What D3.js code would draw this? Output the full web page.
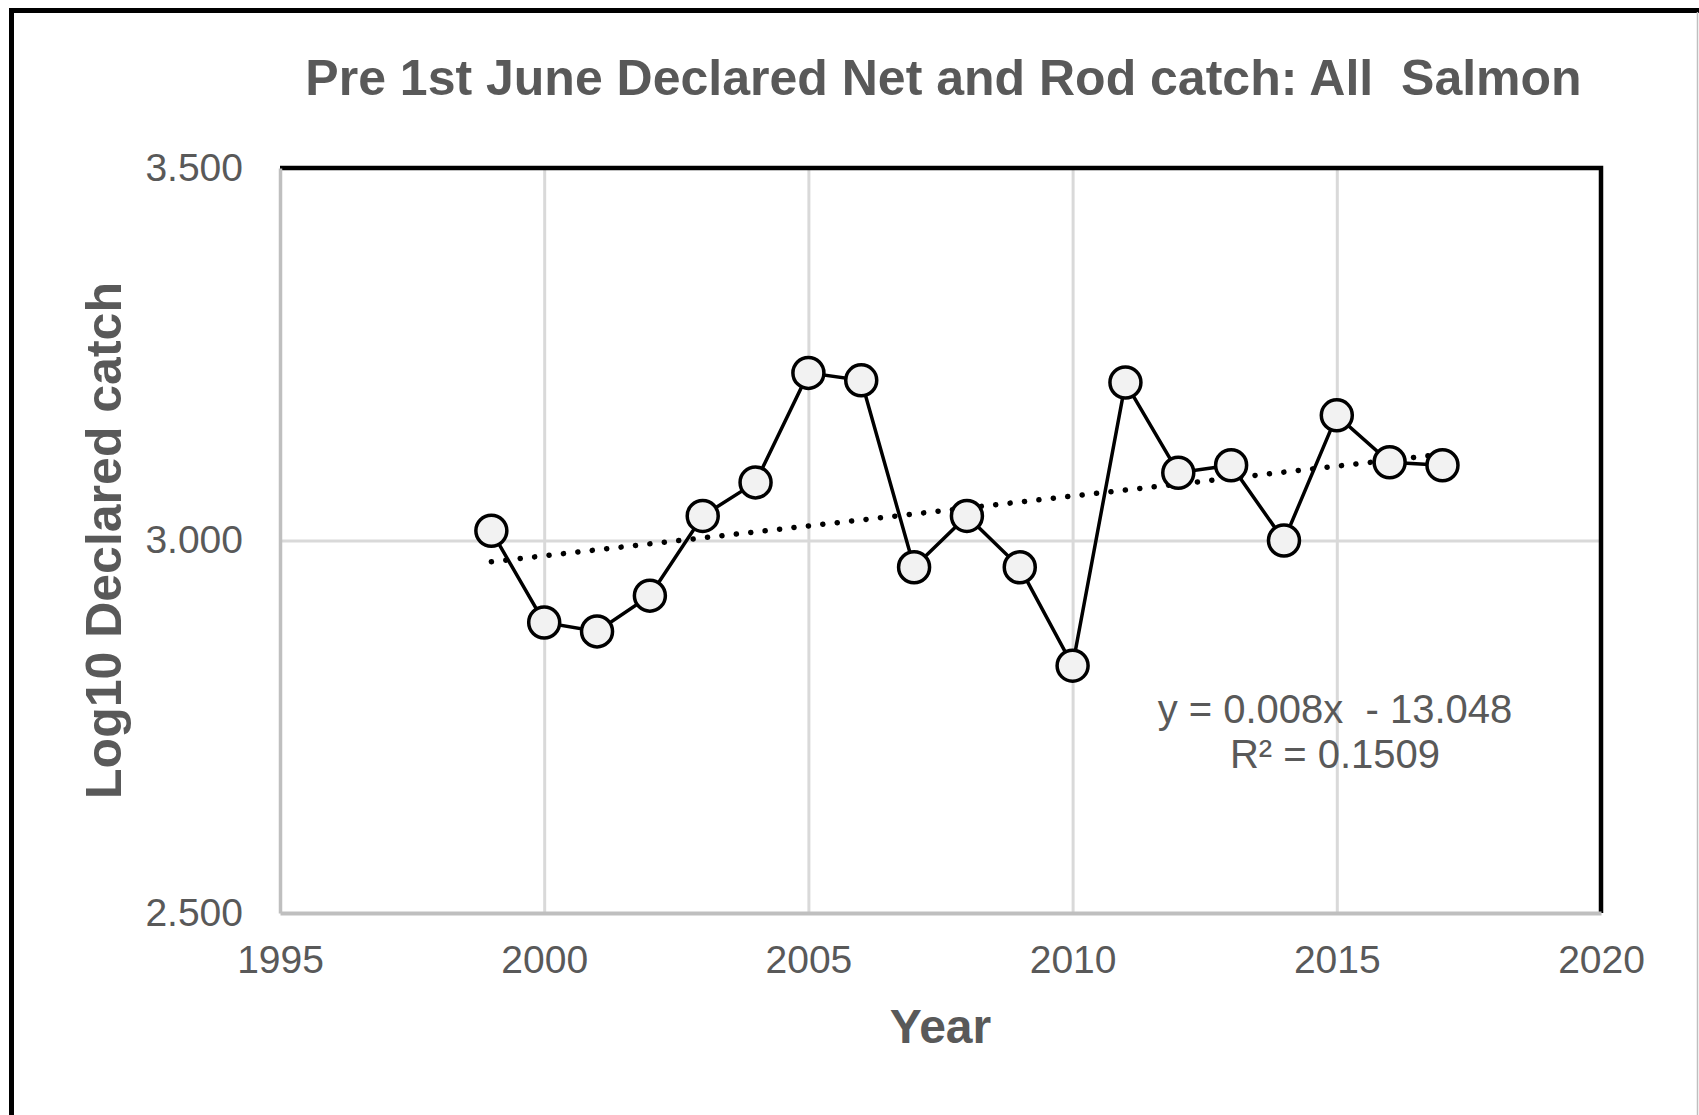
<!DOCTYPE html>
<html>
<head>
<meta charset="utf-8">
<script src="https://cdn.jsdelivr.net/npm/d3@7"></script>
<style>
    html, body { margin: 0; padding: 0; background: #fff; }
    svg { display: block; font-family: "Liberation Sans", Arial, sans-serif; }
</style>
</head>
<body>
<div class="chart"></div>
<script>
// values
var years = [1999, 2000, 2001, 2002, 2003, 2004, 2005, 2006, 2007, 2008,
    2009, 2010, 2011, 2012, 2013, 2014, 2015, 2016, 2017];
var logCatch = [3.013, 2.890, 2.878, 2.926, 3.033, 3.078, 3.225, 3.215, 2.964, 3.033,
    2.964, 2.832, 3.212, 3.091, 3.101, 3.000, 3.168, 3.105, 3.101];

var xTicks = [1995, 2000, 2005, 2010, 2015, 2020];
var yTicks = [2.5, 3.0, 3.5];
var xGrid = [2000, 2005, 2010, 2015];
var yGrid = [3.0];

var titleText = "Pre 1st June Declared Net and Rod catch: All  Salmon";
var xTitle = "Year";
var yTitle = "Log10 Declared catch";
var eqLines = ["y = 0.008x  - 13.048", "R\u00b2 = 0.1509"];

// ==================================

var w = 1699;
var h = 1115;
var plot = { left: 280, right: 1601, top: 168, bottom: 913 };
var textGrey = "#595959";

var svg = d3.select(".chart")
    .append("svg")
    .attr("width", w)
    .attr("height", h);

// outer frame (left + top thick, right thin)
svg.append("path")
    .attr("d", "M11.5," + h + "V10.5H" + w)
    .attr("fill", "none")
    .attr("stroke", "#000")
    .attr("stroke-width", 5);
svg.append("line")
    .attr("x1", 1697.5).attr("x2", 1697.5)
    .attr("y1", 12).attr("y2", h)
    .attr("stroke", "#bfbfbf")
    .attr("stroke-width", 1.5);

var x = d3.scaleLinear().domain([1995, 2020]).range([plot.left, plot.right]);
var y = d3.scaleLinear().domain([2.5, 3.5]).range([plot.bottom, plot.top]);

// gridlines
svg.append("g")
    .attr("class", "xgrid")
    .attr("transform", "translate(0," + plot.bottom + ")")
    .call(d3.axisBottom(x).tickValues(xGrid).tickSize(-(plot.bottom - plot.top)).tickFormat(""))
    .call(function(g) {
        g.select(".domain").remove();
        g.selectAll("line").attr("stroke", "#d9d9d9").attr("stroke-width", 3);
    });

svg.append("g")
    .attr("class", "ygrid")
    .attr("transform", "translate(" + plot.left + ",0)")
    .call(d3.axisLeft(y).tickValues(yGrid).tickSize(-(plot.right - plot.left)).tickFormat(""))
    .call(function(g) {
        g.select(".domain").remove();
        g.selectAll("line").attr("stroke", "#d9d9d9").attr("stroke-width", 3);
    });

// plot border: top and right black, left and bottom grey
svg.append("path")
    .attr("d", "M" + plot.left + "," + plot.top + "H" + plot.right + "V" + plot.bottom)
    .attr("fill", "none")
    .attr("stroke", "#000")
    .attr("stroke-width", 4.5);

// axes
var xAxis = svg.append("g")
    .attr("transform", "translate(0," + plot.bottom + ")")
    .call(d3.axisBottom(x).tickValues(xTicks).tickFormat(d3.format("d")).tickSize(0).tickPadding(32));
xAxis.select(".domain").attr("stroke", "#bfbfbf").attr("stroke-width", 4);
xAxis.selectAll("text")
    .attr("fill", textGrey)
    .style("font-size", "39px")
    .style("font-family", "'Liberation Sans', Arial, sans-serif");

var yAxis = svg.append("g")
    .attr("transform", "translate(" + plot.left + ",0)")
    .call(d3.axisLeft(y).tickValues(yTicks).tickFormat(d3.format(".3f")).tickSize(0).tickPadding(37));
yAxis.select(".domain").attr("stroke", "#bfbfbf").attr("stroke-width", 3.5);
yAxis.selectAll("text")
    .attr("fill", textGrey)
    .style("font-size", "39px")
    .style("font-family", "'Liberation Sans', Arial, sans-serif");

// trend line (least squares on the data, as the spreadsheet does)
var mx = d3.mean(years);
var my = d3.mean(logCatch);
var sxy = d3.sum(years, function(d, i) { return (d - mx) * (logCatch[i] - my); });
var sxx = d3.sum(years, function(d) { return (d - mx) * (d - mx); });
var slope = sxy / sxx;
var intercept = my - slope * mx;
var trendYears = d3.extent(years);

svg.append("path")
    .datum(trendYears)
    .attr("fill", "none")
    .attr("stroke", "#000")
    .attr("stroke-width", 5.5)
    .attr("stroke-linecap", "round")
    .attr("stroke-dasharray", "0.1,14.4")
    .attr("d", d3.line()
        .x(function(d) { return x(d); })
        .y(function(d) { return y(slope * d + intercept); }));

// series line
var line = d3.line()
    .x(function(d, i) { return x(years[i]); })
    .y(function(d) { return y(d); });

svg.append("path")
    .datum(logCatch)
    .attr("fill", "none")
    .attr("stroke", "#000")
    .attr("stroke-width", 3.5)
    .attr("d", line);

svg.selectAll("circle.pt")
    .data(logCatch)
    .enter()
    .append("circle")
    .attr("class", "pt")
    .attr("cx", function(d, i) { return x(years[i]); })
    .attr("cy", function(d) { return y(d); })
    .attr("r", 15.5)
    .attr("fill", "#f2f2f2")
    .attr("stroke", "#000")
    .attr("stroke-width", 3.5);

// equation label
svg.append("text")
    .attr("x", 1335)
    .attr("y", 723)
    .attr("text-anchor", "middle")
    .attr("fill", textGrey)
    .style("font-size", "40px")
    .style("white-space", "pre")
    .selectAll("tspan")
    .data(eqLines)
    .enter()
    .append("tspan")
    .attr("x", 1335)
    .attr("dy", function(d, i) { return i === 0 ? 0 : 45; })
    .text(function(d) { return d; });

// titles
svg.append("text")
    .attr("x", (plot.left + plot.right) / 2 + 3)
    .attr("y", 95)
    .attr("text-anchor", "middle")
    .attr("fill", textGrey)
    .attr("font-weight", "bold")
    .style("font-size", "50px")
    .style("white-space", "pre")
    .text(titleText);

svg.append("text")
    .attr("x", (plot.left + plot.right) / 2)
    .attr("y", 1043)
    .attr("text-anchor", "middle")
    .attr("fill", textGrey)
    .attr("font-weight", "bold")
    .style("font-size", "48px")
    .text(xTitle);

svg.append("text")
    .attr("transform", "translate(121," + (plot.top + plot.bottom) / 2 + ") rotate(-90)")
    .attr("text-anchor", "middle")
    .attr("fill", textGrey)
    .attr("font-weight", "bold")
    .style("font-size", "50px")
    .text(yTitle);
</script>
</body>
</html>
